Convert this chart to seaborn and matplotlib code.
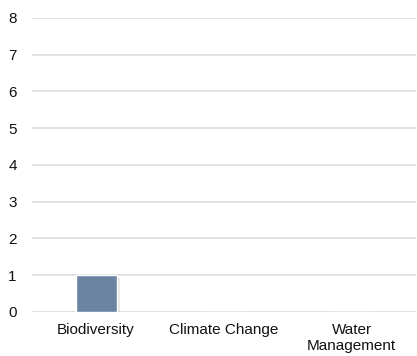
import pandas as pd
import seaborn as sns
import matplotlib.pyplot as plt
import matplotlib.patheffects as pe

# Daten
categories = ["Biodiversity", "Climate Change", "Water\nManagement"]
values = [1, 0, 0]

df = pd.DataFrame({"category": categories, "value": values})

sns.set_style("white")
plt.rcParams['font.family'] = ['Liberation Sans', 'DejaVu Sans']

fig = plt.figure(figsize=(4.17, 3.56), dpi=100)
ax = fig.add_axes([0.077, 0.124, 0.92, 0.826])

sns.barplot(data=df, x="category", y="value", color="#6b84a1", width=0.32,
            saturation=1, ax=ax, zorder=3)

for p in ax.patches:
    p.set_path_effects([pe.SimplePatchShadow(offset=(2.5, -2), shadow_rgbFace="#888888", alpha=0.2),
                        pe.Normal()])

ax.set_ylim(0, 8)
ax.set_yticks(range(0, 9))
ax.yaxis.grid(True, color="#dddddd", linewidth=1.2, zorder=0)
ax.set_axisbelow(True)
for s in ax.spines.values():
    s.set_visible(False)
ax.set_xlabel("")
ax.set_ylabel("")
ax.tick_params(axis="both", length=0, labelsize=11, colors="#111111")
ax.tick_params(axis="y", pad=11)
ax.tick_params(axis="x", pad=8)

fig.savefig("out.png", dpi=100)
